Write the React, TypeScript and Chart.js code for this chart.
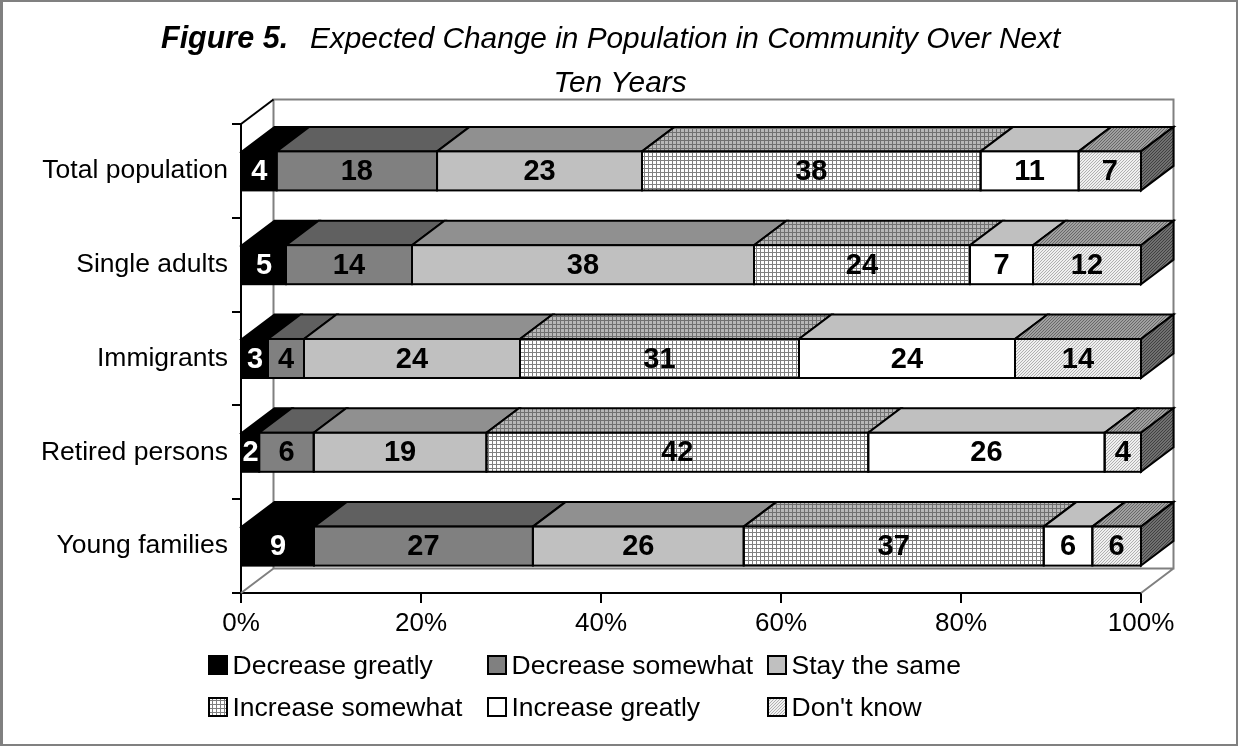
import React, { useEffect, useRef } from "react";
import { Chart, registerables } from "chart.js";

Chart.register(...registerables);

const SANS = '"Liberation Sans", Arial, sans-serif';

const categories = ["Total population", "Single adults", "Immigrants", "Retired persons", "Young families"];
const decreaseGreatly = [4, 5, 3, 2, 9];
const decreaseSomewhat = [18, 14, 4, 6, 27];
const stayTheSame = [23, 38, 24, 19, 26];
const increaseSomewhat = [38, 24, 31, 42, 37];
const increaseGreatly = [11, 7, 24, 26, 6];
const dontKnow = [7, 12, 14, 4, 6];
const percentTicks = [0, 20, 40, 60, 80, 100];

const seriesNames = ["Decrease greatly", "Decrease somewhat", "Stay the same", "Increase somewhat", "Increase greatly", "Don't know"];
const seriesValues = [decreaseGreatly, decreaseSomewhat, stayTheSame, increaseSomewhat, increaseGreatly, dontKnow];

// Depth of the extruded bars and of the chart box, in pixels.
const DEPTH_X = 32.5;
const DEPTH_Y = 24.5;

function gridPattern(back: string, line: string) {
  const c = document.createElement("canvas");
  c.width = c.height = 4;
  const g = c.getContext("2d")!;
  g.fillStyle = back;
  g.fillRect(0, 0, 4, 4);
  g.fillStyle = line;
  g.fillRect(0, 0, 4, 1);
  g.fillRect(0, 0, 1, 4);
  return g.createPattern(c, "repeat")!;
}

function hatchPattern(back: string, line: string) {
  const c = document.createElement("canvas");
  c.width = c.height = 3;
  const g = c.getContext("2d")!;
  g.fillStyle = back;
  g.fillRect(0, 0, 3, 3);
  g.fillStyle = line;
  for (let i = 0; i < 3; i++) g.fillRect(2 - i, i, 1, 1);
  return g.createPattern(c, "repeat")!;
}

function polygon(ctx: CanvasRenderingContext2D, pts: number[][], fill: any) {
  ctx.beginPath();
  pts.forEach(([x, y], i) => (i ? ctx.lineTo(x, y) : ctx.moveTo(x, y)));
  ctx.closePath();
  ctx.fillStyle = fill;
  ctx.fill();
  ctx.lineWidth = 2;
  ctx.strokeStyle = "#000";
  ctx.stroke();
}

export default function App() {
  const ref = useRef<HTMLCanvasElement>(null);

  useEffect(() => {
    const fronts: any[] = ["#000000", "#808080", "#C0C0C0", gridPattern("#FFFFFF", "#808080"), "#FFFFFF", hatchPattern("#F0F0F0", "#B0B0B0")];
    const tops: any[] = ["#000000", "#606060", "#909090", gridPattern("#B8B8B8", "#707070"), "#C0C0C0", hatchPattern("#A0A0A0", "#686868")];
    const sideFace = hatchPattern("#707070", "#404040");

    const box3d = {
      id: "box3d",
      // Frame, box walls and the upper faces of the bars go behind the bar fronts.
      beforeDatasetsDraw(chart: any) {
        const { ctx, chartArea: a, width, height } = chart;
        ctx.save();
        ctx.fillStyle = "#808080";
        ctx.fillRect(0, 0, 3, height);
        ctx.fillRect(0, 0, width, 2);
        ctx.fillRect(width - 2, 0, 2, height);
        ctx.fillRect(0, height - 2, width, 2);

        ctx.strokeStyle = "#808080";
        ctx.lineWidth = 2;
        ctx.beginPath();
        ctx.moveTo(a.left + DEPTH_X, a.bottom - DEPTH_Y);
        ctx.lineTo(a.left + DEPTH_X, a.top - DEPTH_Y);
        ctx.lineTo(a.right + DEPTH_X, a.top - DEPTH_Y);
        ctx.lineTo(a.right + DEPTH_X, a.bottom - DEPTH_Y);
        ctx.lineTo(a.left + DEPTH_X, a.bottom - DEPTH_Y);
        ctx.moveTo(a.left, a.bottom);
        ctx.lineTo(a.left + DEPTH_X, a.bottom - DEPTH_Y);
        ctx.moveTo(a.right, a.bottom);
        ctx.lineTo(a.right + DEPTH_X, a.bottom - DEPTH_Y);
        ctx.stroke();

        ctx.strokeStyle = "#000";
        ctx.beginPath();
        ctx.moveTo(a.left, a.top);
        ctx.lineTo(a.left + DEPTH_X, a.top - DEPTH_Y);
        ctx.stroke();

        chart.data.datasets.forEach((_: any, i: number) => {
          chart.getDatasetMeta(i).data.forEach((bar: any) => {
            const top = bar.y - bar.height / 2;
            const bottom = bar.y + bar.height / 2;
            polygon(ctx, [[bar.base, top], [bar.x, top], [bar.x + DEPTH_X, top - DEPTH_Y], [bar.base + DEPTH_X, top - DEPTH_Y]], tops[i]);
            if (i === chart.data.datasets.length - 1) {
              polygon(ctx, [[bar.x, top], [bar.x + DEPTH_X, top - DEPTH_Y], [bar.x + DEPTH_X, bottom - DEPTH_Y], [bar.x, bottom]], sideFace);
            }
          });
        });
        ctx.restore();
      },
      // Bar outlines, value labels, heading and the three-column legend sit on top.
      afterDatasetsDraw(chart: any) {
        const { ctx } = chart;
        ctx.save();
        ctx.strokeStyle = "#000";
        ctx.lineWidth = 2;
        chart.data.datasets.forEach((_: any, i: number) => {
          chart.getDatasetMeta(i).data.forEach((bar: any) => {
            ctx.strokeRect(bar.base, bar.y - bar.height / 2, bar.x - bar.base, bar.height);
          });
        });

        ctx.textBaseline = "middle";
        ctx.textAlign = "center";
        ctx.font = `bold 29px ${SANS}`;
        chart.data.datasets.forEach((ds: any, i: number) => {
          chart.getDatasetMeta(i).data.forEach((bar: any, j: number) => {
            ctx.fillStyle = i === 0 ? "#FFFFFF" : "#000000";
            ctx.fillText(String(ds.counts[j]), (bar.x + bar.base) / 2, bar.y + 1);
          });
        });

        ctx.textAlign = "left";
        ctx.textBaseline = "alphabetic";
        ctx.fillStyle = "#000";
        ctx.font = `italic bold 30.5px ${SANS}`;
        ctx.fillText("Figure 5.", 161, 48);
        ctx.font = `italic 29.8px ${SANS}`;
        ctx.fillText("Expected Change in Population in Community Over Next", 310, 48);
        ctx.textAlign = "center";
        ctx.fillText("Ten Years", 620, 92);

        ctx.textAlign = "left";
        ctx.font = `26.5px ${SANS}`;
        const columns = [209, 488, 768];
        const rows = [656, 698];
        chart.data.datasets.forEach((ds: any, i: number) => {
          const x = columns[i % 3];
          const y = rows[Math.floor(i / 3)];
          ctx.fillStyle = fronts[i];
          ctx.fillRect(x, y, 18, 18);
          ctx.strokeStyle = "#000";
          ctx.lineWidth = 2;
          ctx.strokeRect(x, y, 18, 18);
          ctx.fillStyle = "#000";
          ctx.fillText(ds.label, x + 23.5, y + 18);
        });
        ctx.restore();
      },
    };

    const rowTotals = categories.map((_, j) => seriesValues.reduce((sum, s) => sum + s[j], 0));

    const chart = new Chart(ref.current!, {
      type: "bar",
      data: {
        labels: categories,
        datasets: seriesNames.map((label, i) => ({
          label,
          counts: seriesValues[i],
          data: seriesValues[i].map((v, j) => (v / rowTotals[j]) * 100),
          backgroundColor: fronts[i],
          borderWidth: 0,
          categoryPercentage: 1,
          barPercentage: 0.416,
        })),
      } as any,
      options: {
        indexAxis: "y",
        animation: false,
        responsive: false,
        devicePixelRatio: 1,
        layout: { padding: { top: 124, right: 97, left: 0, bottom: 0 } },
        plugins: { legend: { display: false }, title: { display: false }, tooltip: { enabled: false } },
        scales: {
          x: {
            stacked: true,
            min: 0,
            max: 100,
            afterFit: (s: any) => { s.height = 153; },
            afterBuildTicks: (s: any) => { s.ticks = percentTicks.map((value) => ({ value })); },
            border: { color: "#000", width: 2 },
            grid: { drawOnChartArea: false, drawTicks: true, tickLength: 10, color: "#000", lineWidth: 2 },
            ticks: { color: "#000", font: { family: SANS, size: 26 }, padding: 5, maxRotation: 0, callback: (v: any) => `${v}%` },
          },
          y: {
            stacked: true,
            afterFit: (s: any) => { s.width = 241; },
            border: { color: "#000", width: 2 },
            grid: { drawOnChartArea: false, drawTicks: true, tickLength: 9, color: "#000", lineWidth: 2 },
            ticks: { color: "#000", font: { family: SANS, size: 26.5 }, padding: 4 },
          },
        },
      } as any,
      plugins: [box3d],
    });
    return () => chart.destroy();
  }, []);

  return (
    <div style={{ position: "absolute", left: 0, top: 0, width: 1238, height: 746, background: "#fff" }}>
      <canvas ref={ref} width={1238} height={746} style={{ display: "block" }} />
    </div>
  );
}
